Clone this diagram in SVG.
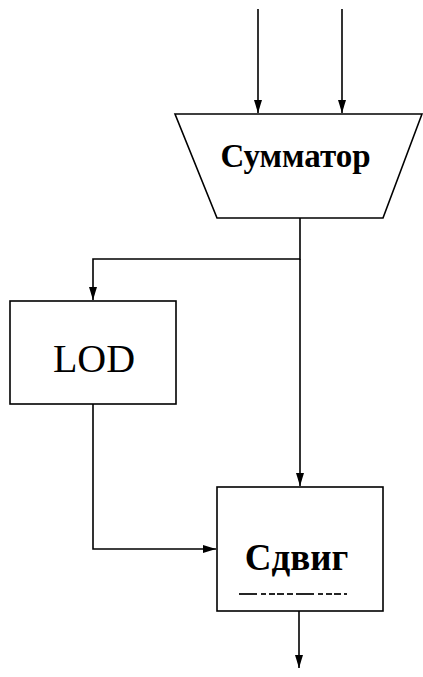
<svg xmlns="http://www.w3.org/2000/svg" width="423" height="677" viewBox="0 0 423 677">
<style>
.ln{fill:none;stroke:#000;stroke-width:1.6}
.box{fill:#fff;stroke:#000;stroke-width:1.6}
.lbl{font-family:"Liberation Serif","Times New Roman",serif;fill:#000;text-anchor:middle}
.b{font-weight:bold}
</style>
<defs>
<marker id="ar" markerUnits="userSpaceOnUse" markerWidth="14" markerHeight="10" refX="13" refY="5" orient="auto">
<path d="M0,1 L13,5 L0,9 z" fill="#000"/>
</marker>
</defs>
<g id="connectors">
<line class="ln" x1="258" y1="9" x2="258" y2="113" marker-end="url(#ar)"/>
<line class="ln" x1="342" y1="9" x2="342" y2="113" marker-end="url(#ar)"/>
<polyline class="ln" points="300,218 300,259 93,259 93,300" marker-end="url(#ar)"/>
<line class="ln" x1="300" y1="259" x2="300" y2="486" marker-end="url(#ar)"/>
<polyline class="ln" points="93,404 93,549 216,549" marker-end="url(#ar)"/>
<line class="ln" x1="299" y1="611" x2="299" y2="668" marker-end="url(#ar)"/>
</g>
<g id="adder">
<polygon class="box" points="175,114 422,114 383,218 217,218"/>
<text class="lbl b" x="295.5" y="167" font-size="33">Сумматор</text>
</g>
<g id="lod">
<rect class="box" x="10" y="301" width="166" height="103"/>
<text class="lbl" x="94" y="372" font-size="40">LOD</text>
</g>
<g id="shift">
<rect class="box" x="217" y="487" width="166" height="124"/>
<text class="lbl b" x="296.5" y="570" font-size="37">Сдвиг</text>
<line x1="239" y1="594" x2="347" y2="594" stroke="#000" stroke-width="2" stroke-dasharray="18,4,5,3,6,2,7,3,6,3" opacity="0.85"/>
</g>
</svg>
